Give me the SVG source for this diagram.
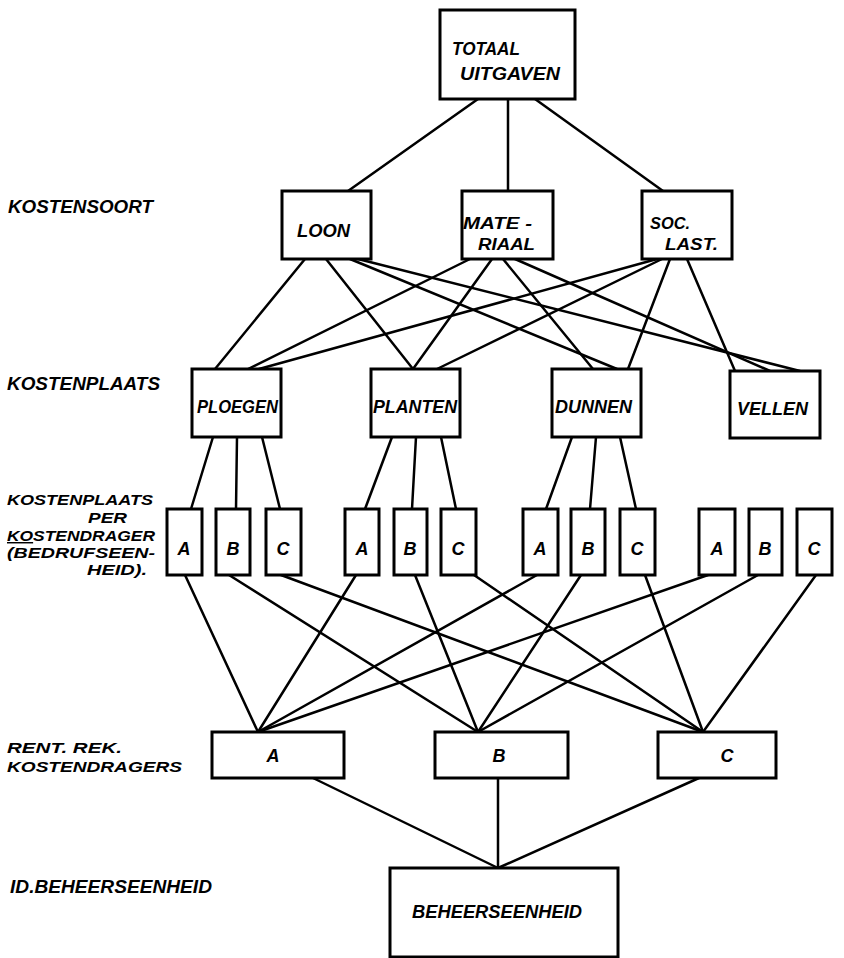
<svg xmlns="http://www.w3.org/2000/svg" width="844" height="958" viewBox="0 0 844 958">
<style>
.box{fill:#fff;stroke:#000;stroke-width:3}
.ln{stroke:#000;stroke-width:2.5;fill:none;stroke-linecap:round}
text{font-family:"Liberation Sans","DejaVu Sans",sans-serif;font-style:italic;font-weight:bold;fill:#000}
.lbl{font-size:18px}
.stk{font-size:14.5px}
.nt{font-size:18px}
.nt2{font-size:16px}
.sm{font-size:18px;text-anchor:middle}
</style>
<rect width="844" height="958" fill="#fff"/>
<g id="connectors">
<line class="ln" x1="478" y1="99" x2="348" y2="191"/>
<line class="ln" x1="508" y1="99" x2="508" y2="191"/>
<line class="ln" x1="535" y1="99" x2="663" y2="191"/>
<line class="ln" x1="305" y1="259" x2="215" y2="369"/>
<line class="ln" x1="326" y1="259" x2="413" y2="369"/>
<line class="ln" x1="350" y1="259" x2="617" y2="369"/>
<line class="ln" x1="358" y1="259" x2="800" y2="371"/>
<line class="ln" x1="470" y1="259" x2="248" y2="369"/>
<line class="ln" x1="492" y1="259" x2="413" y2="369"/>
<line class="ln" x1="503" y1="259" x2="593" y2="369"/>
<line class="ln" x1="515" y1="259" x2="770" y2="371"/>
<line class="ln" x1="657" y1="259" x2="259" y2="369"/>
<line class="ln" x1="662" y1="259" x2="437" y2="369"/>
<line class="ln" x1="670" y1="259" x2="628" y2="369"/>
<line class="ln" x1="687" y1="259" x2="735" y2="371"/>
<line class="ln" x1="213" y1="437" x2="191" y2="509"/>
<line class="ln" x1="237" y1="437" x2="236" y2="509"/>
<line class="ln" x1="262" y1="437" x2="280" y2="509"/>
<line class="ln" x1="392" y1="437" x2="365" y2="509"/>
<line class="ln" x1="416" y1="437" x2="412" y2="509"/>
<line class="ln" x1="441" y1="437" x2="456" y2="509"/>
<line class="ln" x1="572" y1="437" x2="546" y2="509"/>
<line class="ln" x1="596" y1="437" x2="590" y2="509"/>
<line class="ln" x1="620" y1="437" x2="636" y2="509"/>
<line class="ln" x1="185" y1="575" x2="258" y2="732"/>
<line class="ln" x1="229" y1="575" x2="478" y2="732"/>
<line class="ln" x1="281" y1="575" x2="703" y2="732"/>
<line class="ln" x1="356" y1="575" x2="258" y2="732"/>
<line class="ln" x1="415" y1="575" x2="478" y2="732"/>
<line class="ln" x1="474" y1="575" x2="703" y2="732"/>
<line class="ln" x1="537" y1="575" x2="258" y2="732"/>
<line class="ln" x1="581" y1="575" x2="478" y2="732"/>
<line class="ln" x1="645" y1="575" x2="703" y2="732"/>
<line class="ln" x1="708" y1="575" x2="258" y2="732"/>
<line class="ln" x1="758" y1="575" x2="478" y2="732"/>
<line class="ln" x1="816" y1="575" x2="703" y2="732"/>
<line class="ln" x1="313" y1="778" x2="498" y2="868"/>
<line class="ln" x1="498" y1="778" x2="498" y2="868"/>
<line class="ln" x1="699" y1="778" x2="498" y2="868"/>
</g>
<g id="labels">
<text class="lbl" x="8" y="213" textLength="145" lengthAdjust="spacingAndGlyphs">KOSTENSOORT</text>
<text class="lbl" x="7" y="390" textLength="153" lengthAdjust="spacingAndGlyphs">KOSTENPLAATS</text>
<text class="stk" x="7" y="505" textLength="146" lengthAdjust="spacingAndGlyphs">KOSTENPLAATS</text>
<text class="stk" x="88" y="523" textLength="39" lengthAdjust="spacingAndGlyphs">PER</text>
<text class="stk" x="7" y="541" textLength="148" lengthAdjust="spacingAndGlyphs"><tspan text-decoration="underline">KO</tspan>STENDRAGER</text>
<text class="stk" x="7" y="558" textLength="148" lengthAdjust="spacingAndGlyphs">(BEDRUFSEEN-</text>
<text class="stk" x="87" y="575" textLength="60" lengthAdjust="spacingAndGlyphs">HEID).</text>
<text class="stk" x="7" y="753" textLength="115" lengthAdjust="spacingAndGlyphs">RENT. REK.</text>
<text class="stk" x="7" y="772" textLength="175" lengthAdjust="spacingAndGlyphs">KOSTENDRAGERS</text>
<text class="lbl" x="10" y="893" textLength="202" lengthAdjust="spacingAndGlyphs">ID.BEHEERSEENHEID</text>
</g>
<g id="totaal">
<rect class="box" x="440" y="10" width="135" height="89"/>
<text class="nt" x="452" y="55" textLength="68" lengthAdjust="spacingAndGlyphs">TOTAAL</text>
<text class="nt" x="460" y="80" textLength="100" lengthAdjust="spacingAndGlyphs">UITGAVEN</text>
</g>
<g id="loon">
<rect class="box" x="282" y="191" width="89" height="68"/>
<text class="nt" x="297" y="237" textLength="53" lengthAdjust="spacingAndGlyphs">LOON</text>
</g>
<g id="materiaal">
<rect class="box" x="462" y="191" width="91" height="68"/>
<text class="nt2" x="463" y="229" textLength="69" lengthAdjust="spacingAndGlyphs">MATE -</text>
<text class="nt2" x="478" y="250" textLength="57" lengthAdjust="spacingAndGlyphs">RIAAL</text>
</g>
<g id="soclast">
<rect class="box" x="642" y="191" width="90" height="68"/>
<text class="nt2" x="650" y="229" textLength="40" lengthAdjust="spacingAndGlyphs">SOC.</text>
<text class="nt2" x="665" y="250" textLength="53" lengthAdjust="spacingAndGlyphs">LAST.</text>
</g>
<g id="ploegen">
<rect class="box" x="192" y="369" width="89" height="68"/>
<text class="nt" x="197" y="413" textLength="81" lengthAdjust="spacingAndGlyphs">PLOEGEN</text>
</g>
<g id="planten">
<rect class="box" x="371" y="369" width="89" height="68"/>
<text class="nt" x="373" y="413" textLength="84" lengthAdjust="spacingAndGlyphs">PLANTEN</text>
</g>
<g id="dunnen">
<rect class="box" x="552" y="369" width="89" height="68"/>
<text class="nt" x="555" y="413" textLength="77" lengthAdjust="spacingAndGlyphs">DUNNEN</text>
</g>
<g id="vellen">
<rect class="box" x="730" y="371" width="90" height="67"/>
<text class="nt" x="737" y="415" textLength="71" lengthAdjust="spacingAndGlyphs">VELLEN</text>
</g>
<g id="ploegen-a"><rect class="box" x="167" y="509" width="35" height="66"/><text class="sm" x="184" y="555">A</text></g>
<g id="ploegen-b"><rect class="box" x="216" y="509" width="34" height="66"/><text class="sm" x="233" y="555">B</text></g>
<g id="ploegen-c"><rect class="box" x="266" y="509" width="35" height="66"/><text class="sm" x="283" y="555">C</text></g>
<g id="planten-a"><rect class="box" x="345" y="509" width="34" height="66"/><text class="sm" x="362" y="555">A</text></g>
<g id="planten-b"><rect class="box" x="394" y="509" width="33" height="66"/><text class="sm" x="410" y="555">B</text></g>
<g id="planten-c"><rect class="box" x="441" y="509" width="35" height="66"/><text class="sm" x="458" y="555">C</text></g>
<g id="dunnen-a"><rect class="box" x="523" y="509" width="35" height="66"/><text class="sm" x="540" y="555">A</text></g>
<g id="dunnen-b"><rect class="box" x="571" y="509" width="34" height="66"/><text class="sm" x="588" y="555">B</text></g>
<g id="dunnen-c"><rect class="box" x="620" y="509" width="35" height="66"/><text class="sm" x="637" y="555">C</text></g>
<g id="vellen-a"><rect class="box" x="699" y="509" width="36" height="66"/><text class="sm" x="717" y="555">A</text></g>
<g id="vellen-b"><rect class="box" x="749" y="509" width="33" height="66"/><text class="sm" x="765" y="555">B</text></g>
<g id="vellen-c"><rect class="box" x="797" y="509" width="35" height="66"/><text class="sm" x="814" y="555">C</text></g>
<g id="rent-a"><rect class="box" x="212" y="732" width="132" height="46"/><text class="sm" x="273" y="762">A</text></g>
<g id="rent-b"><rect class="box" x="435" y="732" width="133" height="46"/><text class="sm" x="499" y="762">B</text></g>
<g id="rent-c"><rect class="box" x="658" y="732" width="118" height="46"/><text class="sm" x="727" y="762">C</text></g>
<g id="beheerseenheid">
<rect class="box" x="390" y="868" width="228" height="89"/>
<text class="nt" x="412" y="918" textLength="170" lengthAdjust="spacingAndGlyphs">BEHEERSEENHEID</text>
</g>
</svg>
